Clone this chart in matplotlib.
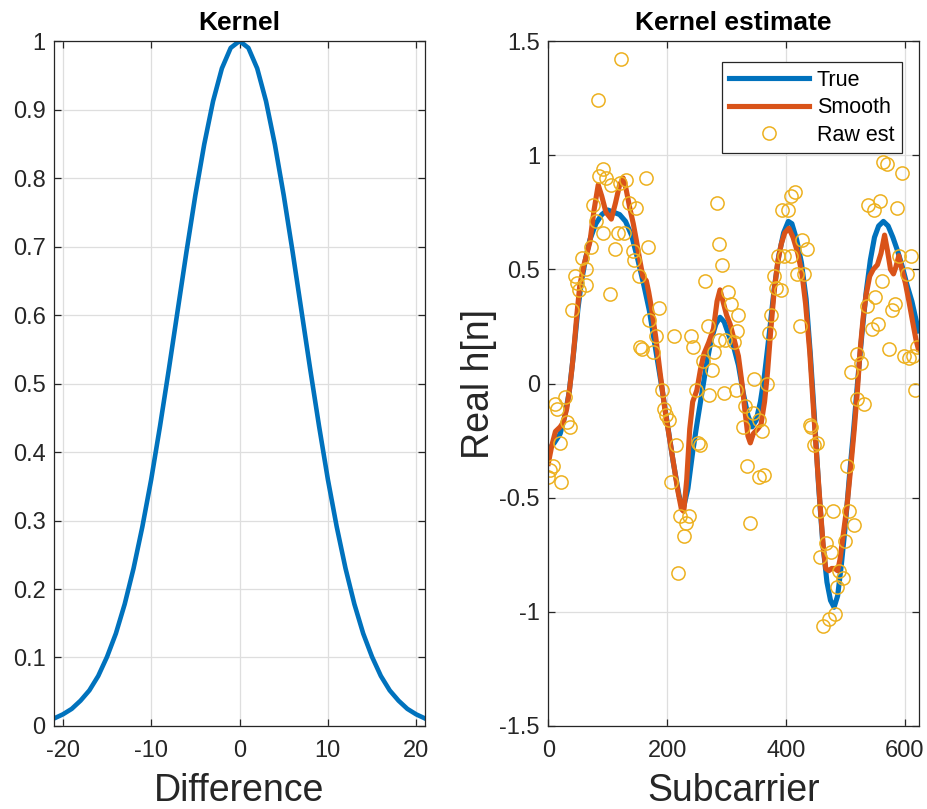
import numpy as np
import matplotlib
matplotlib.use("Agg")
from matplotlib import pyplot as plt
from matplotlib.ticker import FormatStrFormatter

plt.rcParams['font.family'] = ['Liberation Sans', 'DejaVu Sans']
plt.rcParams['axes.unicode_minus'] = False

# kernel (left panel), one value per integer difference
kernel_diff = list(range(-21, 22))
kernel_val = [0.011, 0.017, 0.025, 0.037, 0.052, 0.073, 0.101, 0.135, 0.178, 0.230, 0.291,
              0.360, 0.438, 0.521, 0.607, 0.693, 0.775, 0.849, 0.912, 0.960, 0.990, 1.000,
              0.990, 0.960, 0.912, 0.849, 0.775, 0.693, 0.607, 0.521, 0.438, 0.360,
              0.291, 0.230, 0.178, 0.135, 0.101, 0.073, 0.052, 0.037, 0.025, 0.017, 0.011]

# true channel (blue)
true_sc = [0, 10, 20, 28, 35, 42, 50, 56, 63, 70, 80, 90, 100, 110, 120, 130, 140, 150, 160,
           170, 180, 190, 200, 210, 220, 227, 235, 243, 250, 258, 266, 274, 282, 289, 296,
           304, 312, 320, 328, 336, 343, 350, 357, 364, 372, 380, 388, 396, 404, 410, 418,
           426, 434, 441, 448, 455, 462, 469, 475, 481, 487, 493, 500, 507, 514, 521, 528,
           535, 542, 549, 556, 564, 572, 580, 588, 596, 604, 612, 618, 623]
true_val = [-0.29, -0.26, -0.22, -0.14, -0.04, 0.12, 0.33, 0.45, 0.55, 0.63, 0.70, 0.74, 0.76,
            0.75, 0.74, 0.71, 0.65, 0.55, 0.44, 0.32, 0.16, 0.00, -0.17, -0.34, -0.49, -0.55,
            -0.46, -0.30, -0.18, -0.05, 0.08, 0.19, 0.26, 0.29, 0.27, 0.21, 0.16, 0.08, -0.04,
            -0.14, -0.19, -0.16, -0.08, 0.04, 0.22, 0.41, 0.56, 0.66, 0.71, 0.70, 0.63, 0.53,
            0.37, 0.13, -0.15, -0.45, -0.70, -0.87, -0.95, -0.98, -0.93, -0.80, -0.62, -0.40,
            -0.20, 0.02, 0.22, 0.40, 0.54, 0.64, 0.69, 0.71, 0.69, 0.64, 0.58, 0.51, 0.43,
            0.36, 0.29, 0.23]

# kernel smoothed estimate (orange)
smooth_sc = [0, 6, 12, 20, 25, 31, 36, 40, 44, 48, 53, 60, 70, 77, 84, 90, 97, 106, 113, 120,
             126, 131, 137, 143, 148, 154, 159, 165, 169, 173, 181, 188, 196, 204, 212, 218,
             224, 228, 233, 238, 243, 250, 256, 262, 270, 278, 284, 289, 294, 300, 306, 313,
             320, 326, 331, 336, 340, 345, 352, 358, 364, 369, 374, 380, 386, 392, 398, 405,
             412, 420, 427, 433, 440, 446, 452, 458, 463, 467, 472, 477, 482, 487, 491, 497,
             503, 509, 515, 520, 525, 530, 535, 541, 547, 554, 560, 566, 571, 576, 581, 585,
             590, 595, 601, 607, 614, 619, 623]
smooth_val = [-0.35, -0.27, -0.21, -0.19, -0.17, -0.11, -0.02, 0.07, 0.18, 0.30, 0.43, 0.52,
              0.62, 0.76, 0.87, 0.82, 0.75, 0.72, 0.79, 0.87, 0.90, 0.85, 0.77, 0.70, 0.63,
              0.54, 0.47, 0.45, 0.40, 0.34, 0.20, 0.05, -0.11, -0.24, -0.37, -0.47, -0.55,
              -0.56, -0.42, -0.20, -0.08, -0.03, 0.06, 0.13, 0.18, 0.24, 0.36, 0.41, 0.36,
              0.30, 0.26, 0.19, 0.12, 0.00, -0.12, -0.23, -0.26, -0.22, -0.20, -0.18, -0.08,
              0.05, 0.22, 0.40, 0.53, 0.61, 0.66, 0.68, 0.64, 0.57, 0.48, 0.35, 0.14, -0.10,
              -0.33, -0.55, -0.72, -0.81, -0.82, -0.81, -0.81, -0.82, -0.77, -0.65, -0.53,
              -0.37, -0.20, -0.04, 0.15, 0.29, 0.39, 0.47, 0.50, 0.52, 0.57, 0.65, 0.58, 0.50,
              0.48, 0.51, 0.56, 0.50, 0.44, 0.36, 0.26, 0.19, 0.15]

# raw per-pilot estimates (yellow circles)
raw_sc = [0, 3, 8, 11, 15, 20, 22, 28, 31, 36, 40, 45, 48, 52, 56, 63, 64, 72, 75, 80, 83,
          85, 92, 92, 97, 103, 105, 112, 117, 120, 123, 128, 131, 136, 142, 144, 148, 152,
          154, 158, 164, 168, 170, 176, 182, 187, 191, 194, 198, 203, 206, 212, 215, 219,
          221, 228, 232, 236, 240, 243, 249, 252, 256, 260, 264, 268, 271, 275, 279, 284,
          288, 288, 292, 296, 298, 302, 307, 313, 316, 318, 320, 328, 331, 335, 340, 344,
          347, 354, 359, 355, 363, 368, 371, 375, 380, 383, 387, 391, 394, 397, 403, 408,
          408, 416, 418, 424, 427, 431, 436, 440, 443, 448, 452, 455, 458, 463, 467, 472,
          475, 479, 482, 486, 490, 496, 499, 503, 506, 510, 514, 519, 520, 526, 531, 536,
          538, 544, 548, 550, 555, 559, 562, 564, 570, 574, 579, 584, 587, 590, 595, 598,
          603, 607, 611, 614, 617, 620]
raw_val = [-0.41, -0.38, -0.36, -0.09, -0.11, -0.26, -0.43, -0.06, -0.17, -0.19, 0.32, 0.47,
           0.44, 0.41, 0.55, 0.50, 0.43, 0.60, 0.78, 0.71, 1.24, 0.91, 0.94, 0.66, 0.90,
           0.39, 0.87, 0.59, 0.66, 0.88, 1.42, 0.66, 0.89, 0.79, 0.58, 0.54, 0.77, 0.47,
           0.16, 0.15, 0.90, 0.60, 0.28, 0.14, 0.21, 0.33, -0.03, -0.11, -0.14, -0.16,
           -0.43, 0.21, -0.27, -0.83, -0.58, -0.67, -0.61, -0.58, 0.21, 0.16, -0.03, -0.26,
           -0.27, 0.10, 0.45, 0.25, -0.05, 0.06, 0.14, 0.79, 0.61, 0.19, 0.52, -0.04, 0.19,
           0.40, 0.35, 0.18, -0.03, 0.23, 0.30, -0.19, -0.10, -0.36, -0.61, -0.13, 0.02,
           -0.16, -0.21, -0.41, -0.40, 0.00, 0.22, 0.30, 0.47, 0.42, 0.56, 0.41, 0.76, 0.56,
           0.76, 0.82, 0.56, 0.84, 0.48, 0.25, 0.63, 0.48, 0.59, -0.18, -0.19, -0.27, -0.26,
           -0.56, -0.76, -1.06, -0.70, -1.03, -0.74, -0.56, -1.01, -0.89, -0.82, -0.85,
           -0.69, -0.36, -0.56, 0.05, -0.62, -0.07, 0.13, 0.09, -0.09, 0.34, 0.78, 0.24,
           0.76, 0.38, 0.26, 0.80, 0.45, 0.97, 0.96, 0.15, 0.32, 0.35, 0.77, 0.56, 0.92,
           0.12, 0.48, 0.11, 0.56, 0.12, -0.03, 0.16]

BLUE = '#0072BD'
ORANGE = '#D95319'
YELLOW = '#EDB120'
DARK = '#262626'


def style_axes(ax):
    ax.grid(True, color='#dedede', linewidth=0.9)
    ax.set_axisbelow(True)
    ax.tick_params(direction='in', top=True, right=True, length=5, width=0.9,
                   colors=DARK, labelsize=17)
    ax.tick_params(axis='x', pad=10)
    ax.tick_params(axis='y', pad=6)
    for s in ax.spines.values():
        s.set_color(DARK)
        s.set_linewidth(0.9)
    ax.yaxis.set_major_formatter(FormatStrFormatter('%g'))


fig = plt.figure(figsize=(9.27, 8.09), dpi=100)
ax1 = fig.add_axes([0.0583, 0.1026, 0.4002, 0.8467])
ax2 = fig.add_axes([0.5915, 0.1026, 0.3999, 0.8467])

# left: kernel
ax1.plot(kernel_diff, kernel_val, color=BLUE, linewidth=3.3)
ax1.set_xlim(-21, 21)
ax1.set_ylim(0, 1)
ax1.set_xticks([-20, -10, 0, 10, 20])
ax1.set_yticks(np.arange(0, 1.01, 0.1))
style_axes(ax1)
ax1.set_title('Kernel', fontsize=19, fontweight='bold', pad=8)
ax1.set_xlabel('Difference', fontsize=27, color=DARK, labelpad=8)

# right: kernel estimate
ax2.plot(true_sc, true_val, color=BLUE, linewidth=3.7, label='True')
ax2.plot(smooth_sc, smooth_val, color=ORANGE, linewidth=3.7, label='Smooth')
ax2.plot(raw_sc, raw_val, 'o', markerfacecolor='none', markeredgecolor=YELLOW,
         markersize=9.5, markeredgewidth=1.1, label='Raw est')
ax2.set_xlim(0, 624)
ax2.set_ylim(-1.5, 1.5)
ax2.set_xticks([0, 200, 400, 600])
ax2.set_yticks([-1.5, -1, -0.5, 0, 0.5, 1, 1.5])
style_axes(ax2)
ax2.set_title('Kernel estimate', fontsize=19, fontweight='bold', pad=8)
ax2.set_xlabel('Subcarrier', fontsize=27, color=DARK, labelpad=8)
ax2.set_ylabel('Real h[n]', fontsize=27, color=DARK, labelpad=2)

leg = ax2.legend(loc='upper right', bbox_to_anchor=(0.953, 0.969), borderaxespad=0,
                 fontsize=15.5, handlelength=3.7, handletextpad=0.35, labelspacing=0.3,
                 fancybox=False, framealpha=1, edgecolor=DARK, borderpad=0.35)
leg.get_frame().set_linewidth(0.9)

fig.savefig('out.png', dpi=100)
